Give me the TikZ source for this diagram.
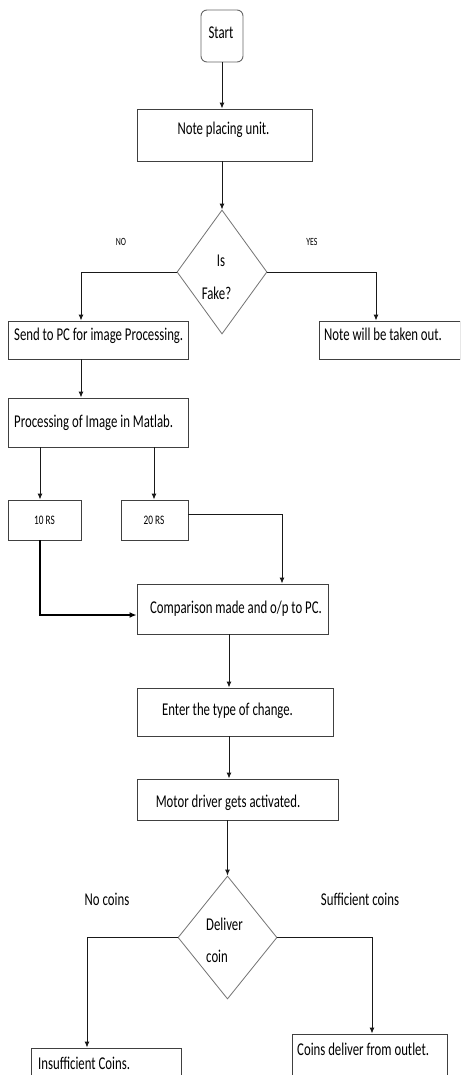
\documentclass[tikz,border=0pt]{standalone}
\usepackage{fontspec}
\newfontfamily\flow{Carlito}[FakeStretch=0.71]
\usetikzlibrary{arrows.meta,shapes.geometric}
\begin{document}
\begin{tikzpicture}[x=1pt,y=-1pt,
  box/.style={draw=black!75, line width=0.9pt, rectangle, inner sep=0pt},
  dia/.style={draw=black!55, line width=0.8pt, diamond, inner sep=0pt},
  txt/.style={font=\flow\fontsize{18}{20}\selectfont, inner sep=0pt, text=black},
  small/.style={font=\flow\fontsize{11}{12}\selectfont, inner sep=0pt, text=black},
  rs/.style={font=\flow\fontsize{13}{14}\selectfont, inner sep=0pt, text=black},
  arr/.style={-{Latex[length=6pt,width=5pt]}, line width=1pt, draw=black!90},
  thickarr/.style={-{Latex[length=7pt,width=6pt]}, line width=2.2pt, draw=black}]
\useasboundingbox (0,0) rectangle (460,1075);
\clip (0,0) rectangle (460,1075);
\fill[white] (0,0) rectangle (460,1075);
% column / row helpers
\coordinate (xNo) at (81,0);
\coordinate (xYes) at (376,0);
\coordinate (x10) at (40,0);
\coordinate (x20) at (154,0);
\coordinate (xComp) at (282,0);
\coordinate (xMid) at (229,0);
\coordinate (xNoC) at (87,0);
\coordinate (xSuf) at (372,0);
\coordinate (y514) at (0,514);
\coordinate (y615) at (0,615);
% nodes
\node[box, rounded corners=6pt, minimum width=42, minimum height=52, draw=black!60] (start) at (222,36) {};
\node[txt, anchor=base] (startt) at (221,39) {Start};
\node[box, minimum width=175, minimum height=52] (note) at (224.5,135) {};
\node[txt, anchor=base] (notet) at (223.5,135) {Note placing unit.};
\node[dia, minimum width=90, minimum height=124] (fake) at (222,272) {};
\node[txt, anchor=base] (fake1) at (221,266) {Is};
\node[txt, anchor=base] (fake2) at (216.5,299) {Fake?};
\node[small, anchor=base] (no) at (121,245) {NO};
\node[small, anchor=base] (yes) at (312,245) {YES};
\node[box, minimum width=180, minimum height=38] (send) at (98,340) {};
\node[txt, anchor=base west] (sendt) at (14,340) {Send to PC for image Processing.};
\node[box, minimum width=141, minimum height=38] (taken) at (389.5,340) {};
\node[txt, anchor=base west] (takent) at (324,340) {Note will be taken out.};
\node[box, minimum width=180, minimum height=49] (proc) at (98,422.5) {};
\node[txt, anchor=base west] (proct) at (14,427) {Processing of Image in Matlab.};
\node[box, minimum width=73, minimum height=40] (r10) at (44.5,520) {};
\node[rs, anchor=base] (r10t) at (44.5,524) {10 RS};
\node[box, minimum width=67, minimum height=40] (r20) at (154.5,520) {};
\node[rs, anchor=base] (r20t) at (154,524) {20 RS};
\node[box, minimum width=191, minimum height=50] (comp) at (232.5,609) {};
\node[txt, anchor=base] (compt) at (236,613) {Comparison made and o/p to PC.};
\node[box, minimum width=196, minimum height=48] (enter) at (235,712) {};
\node[txt, anchor=base] (entert) at (227.5,715) {Enter the type of change.};
\node[box, minimum width=201, minimum height=41] (motor) at (237.5,799.5) {};
\node[txt, anchor=base] (motort) at (228,807) {Motor driver gets activated.};
\node[dia, minimum width=99, minimum height=123] (deliver) at (227.5,937.5) {};
\node[txt, anchor=base west] (del1) at (206,930) {Deliver};
\node[txt, anchor=base west] (del2) at (206,962) {coin};
\node[txt, anchor=base] (noc) at (107,905) {No coins};
\node[txt, anchor=base] (suff) at (360,905) {Sufficient coins};
\node[box, minimum width=150, minimum height=52] (insuf) at (106,1074) {};
\node[txt, anchor=base west] (insuft) at (38,1069) {Insufficient Coins.};
\node[box, minimum width=155, minimum height=52] (coins) at (369.5,1060) {};
\node[txt, anchor=base west] (coinst) at (297,1055) {Coins deliver from outlet.};
% connectors
\draw[arr] (start.south) -- (start.south |- note.north);
\draw[arr] (fake.north |- note.south) -- (fake.north);
\draw[arr] (fake.west) -| (xNo |- send.north);
\draw[arr] (fake.east) -| (xYes |- taken.north);
\draw[arr] (xNo |- send.south) -- (xNo |- proc.north);
\draw[arr] (x10 |- proc.south) -- (x10 |- r10.north);
\draw[arr] (x20 |- proc.south) -- (x20 |- r20.north);
\draw[arr] (r20.east |- y514) -| (xComp |- comp.north);
\draw[thickarr] (x10 |- r10.south) |- (comp.west |- y615);
\draw[arr] (xMid |- comp.south) -- (xMid |- enter.north);
\draw[arr] (xMid |- enter.south) -- (xMid |- motor.north);
\draw[arr] (deliver.north |- motor.south) -- (deliver.north);
\draw[arr] (deliver.west) -| (xNoC |- insuf.north);
\draw[arr] (deliver.east) -| (xSuf |- coins.north);
\end{tikzpicture}
\end{document}
